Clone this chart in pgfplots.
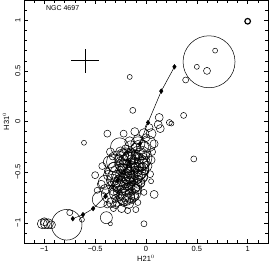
\documentclass[border=0pt]{standalone}
\usepackage{pgfplots}
\usepackage{pgfplotstable}
\usepackage{fontspec}
\setmainfont{Liberation Sans}
\pgfplotsset{compat=1.18}
\pgfplotstableread{
x y r
-0.25 -0.30 5
-0.20 -0.32 6
-0.15 -0.30 4
-0.10 -0.33 5
-0.05 -0.32 6
0.00 -0.34 4
-0.27 -0.36 4
-0.22 -0.38 5
-0.17 -0.37 7
-0.12 -0.39 4
-0.07 -0.37 5
-0.02 -0.40 6
-0.24 -0.43 6
-0.19 -0.42 4
-0.14 -0.44 5
-0.09 -0.43 7
-0.04 -0.45 4
0.01 -0.44 5
-0.26 -0.48 4
-0.21 -0.49 7
-0.16 -0.50 5
-0.11 -0.48 4
-0.06 -0.51 6
-0.01 -0.49 4
-0.28 -0.54 6
-0.23 -0.55 4
-0.18 -0.56 6
-0.13 -0.54 5
-0.08 -0.57 4
-0.03 -0.55 5
-0.30 -0.60 5
-0.25 -0.61 7
-0.20 -0.62 4
-0.15 -0.60 5
-0.10 -0.63 6
-0.05 -0.61 4
-0.29 -0.66 4
-0.24 -0.68 5
-0.19 -0.67 6
-0.14 -0.69 4
-0.09 -0.67 5
-0.31 -0.72 5
-0.26 -0.74 4
-0.21 -0.73 6
-0.16 -0.75 5
-0.11 -0.74 4
-0.28 -0.79 5
-0.22 -0.80 4
-0.17 -0.81 5
-0.13 -0.78 3
-0.23 -0.33 6
-0.18 -0.34 5
-0.13 -0.35 7
-0.08 -0.35 4
-0.03 -0.36 5
-0.25 -0.40 5
-0.20 -0.44 6
-0.15 -0.41 5
-0.10 -0.45 5
-0.05 -0.42 7
-0.23 -0.46 5
-0.18 -0.47 4
-0.13 -0.47 6
-0.08 -0.49 5
-0.03 -0.47 6
-0.25 -0.52 5
-0.20 -0.53 6
-0.15 -0.53 4
-0.10 -0.55 7
-0.05 -0.53 4
-0.27 -0.57 4
-0.22 -0.58 6
-0.17 -0.59 5
-0.12 -0.58 4
-0.07 -0.60 6
-0.27 -0.63 6
-0.22 -0.65 5
-0.17 -0.64 4
-0.12 -0.65 6
-0.32 -0.68 5
-0.26 -0.70 6
-0.17 -0.71 4
-0.12 -0.72 5
-0.23 -0.76 6
-0.19 -0.78 4
-0.30 -0.76 4
-0.15 -0.25 6
-0.10 -0.26 5
-0.20 -0.27 4
-0.08 -0.22 7
-0.02 -0.25 5
-0.32 -0.45 5
-0.33 -0.58 6
-0.35 -0.63 4
-0.37 -0.53 5
-0.40 -0.67 5
-0.34 -0.80 5
-0.30 -0.82 4
-0.02 -0.12 5
0.03 -0.06 4
-0.18 -0.40 13
-0.10 -0.52 12
-0.22 -0.62 11
-0.05 -0.28 10
-0.30 -0.50 10
-0.15 -0.70 10
-0.35 -0.72 9
-0.26 -0.25 9
0.02 -0.22 8
-0.45 -0.77 8
-0.40 -0.60 7
-0.36 -0.40 6
-0.12 -0.45 15
-0.24 -0.56 14
-0.06 -0.36 12
-0.28 -0.40 11
-0.20 -0.74 9
-0.38 -0.12 3.5
-0.22 -0.12 3.5
-0.11 -0.10 4
0.13 0.04 4
0.12 -0.03 4
0.23 -0.01 3
0.14 -0.07 4
0.05 -0.12 5
0.00 -0.16 4
-0.08 -0.18 5
-0.16 -0.20 5
0.08 -0.22 4
0.06 -0.30 3.5
0.05 -0.38 4
0.04 -0.52 3.5
-0.35 -0.30 4
-0.43 -0.44 3.5
-0.38 -0.49 3
-0.33 -0.35 3
-0.50 -0.53 3.5
-0.44 -0.62 4
-0.48 -0.68 3
-0.38 -0.82 3.5
-0.32 -0.86 3
-0.24 -0.86 4
-0.18 -0.88 3
-0.08 -0.80 3
-0.02 -0.70 3
-0.16 0.44 2.5
-0.13 0.11 3
0.39 0.41 3
0.50 0.54 2.5
0.60 0.50 3.5
0.68 0.70 2.5
0.62 0.59 26
0.37 0.06 3
0.25 -0.02 2.5
0.47 -0.37 3
0.05 -0.59 2.5
0.08 -0.72 4
-0.02 -1.01 3
-0.10 -0.87 3
-0.10 -0.66 4
-0.61 -0.21 2.5
-0.39 -0.95 6
-0.35 -1.01 2
-0.75 -0.90 3
-0.63 -0.97 2.5
-0.78 -1.02 15.3
-1.02 -1.01 5
-0.99 -1.01 5
-0.96 -1.01 5
-1.00 -0.99 4
-0.93 -1.02 4
}\circles
\begin{document}
\begin{tikzpicture}
\useasboundingbox (-24pt,-26pt) rectangle (245pt,243pt);
\begin{axis}[at={(0,0)}, anchor=south west, scale only axis,
  width=244pt, height=243pt,
  xmin=-1.2, xmax=1.2, ymin=-1.2, ymax=1.2,
  axis line style={line width=0.6pt},
  tick align=inside, tick pos=both,
  major tick length=4pt, minor tick length=2.5pt,
  every tick/.style={black, line width=0.5pt},
  xtick={-1,-0.5,0,0.5,1},
  ytick={-1,-0.5,0,0.5,1},
  xticklabels={−1,−0.5,0,0.5,1},
  yticklabels={−1,−0.5,0,0.5,1},
  minor xtick={-1.1,-0.9,-0.8,-0.7,-0.6,-0.4,-0.3,-0.2,-0.1,0.1,0.2,0.3,0.4,0.6,0.7,0.8,0.9,1.1},
  minor ytick={-1.1,-0.9,-0.8,-0.7,-0.6,-0.4,-0.3,-0.2,-0.1,0.1,0.2,0.3,0.4,0.6,0.7,0.8,0.9,1.1},
  every tick label/.append style={font=\fontsize{7.5}{9}\selectfont},
  yticklabel style={rotate=90, anchor=south},
  xlabel={H21$^0$}, ylabel={H31$^0$},
  label style={font=\fontsize{7.5}{9}\selectfont},
  xlabel style={yshift=3pt},
  ylabel style={yshift=-1pt},
]
\addplot[scatter, only marks, mark=o,
  mark options={line width=0.5pt},
  scatter/use mapped color={draw=black, fill=none},
  visualization depends on={\thisrow{r} \as \rr},
  scatter/@pre marker code/.append style={/tikz/mark size=\rr},
  point meta=\thisrow{r}] table[x=x, y=y] {\circles};
\addplot[only marks, mark=o, mark size=2.8, mark options={line width=1.2pt}] coordinates {(1.0,0.99)};
\addplot[black, line width=0.5pt, mark=diamond*, mark size=2.3pt] coordinates {
(-0.72,-0.96) (-0.62,-0.92) (-0.52,-0.86) (-0.40,-0.74) (-0.28,-0.58)
(-0.16,-0.40) (-0.06,-0.22) (0.02,-0.01) (0.15,0.30) (0.28,0.54)};
\addplot[draw=none, mark=none, line width=0.6pt,
  error bars/.cd, x dir=both, x explicit, y dir=both, y explicit,
  error mark=none, error bar style={line width=0.6pt}]
  coordinates {(-0.60,0.60) +- (0.14,0.12)};
\node[font=\fontsize{7}{8}\selectfont] at (axis cs:-0.82,1.12) {NGC 4697};
\end{axis}
\end{tikzpicture}
\end{document}
